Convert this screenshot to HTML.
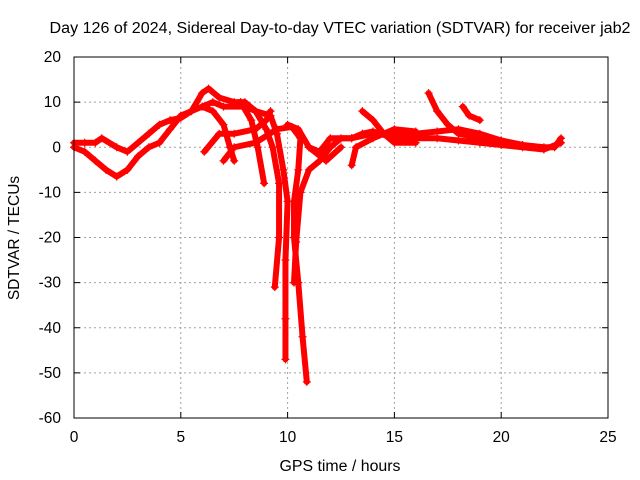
<!DOCTYPE html>
<html><head><meta charset="utf-8"><style>
html,body{margin:0;padding:0;background:#fff}
svg{display:block;font-family:"Liberation Sans",sans-serif}
</style></head><body>
<svg id="chart" width="640" height="480">
<text x="340" y="33" font-size="15.5" text-anchor="middle" textLength="581" lengthAdjust="spacingAndGlyphs">Day 126 of 2024, Sidereal Day-to-day VTEC variation (SDTVAR) for receiver jab2</text>
<text x="340" y="471" font-size="15.5" text-anchor="middle" textLength="121" lengthAdjust="spacingAndGlyphs">GPS time / hours</text>
<text transform="translate(19,238) rotate(-90)" font-size="15.5" text-anchor="middle">SDTVAR / TECUs</text>
<g id="grid"></g><g id="axes"></g><g id="series"></g>
<rect x="74" y="57" width="534" height="361" fill="none" stroke="#000" stroke-width="1"/>
</svg>
<script>
const xTicks=[0,5,10,15,20,25];
const yTicks=[20,10,0,-10,-20,-30,-40,-50,-60];
const track1=[[0,0],[0.5,-1],[1,-3],[1.5,-5],[2,-6.5],[2.5,-5],[3,-2],[3.5,0],[4,1],[4.5,4],[5,7],[5.5,8],[6,9],[6.5,8],[7,5],[7.3,0],[7.5,-3]];
const track2=[[0,1],[0.5,1],[1,1],[1.3,2],[2,0],[2.5,-1],[3,1],[3.5,3],[4,5],[4.5,6],[5,6.5],[5.5,8],[6,12],[6.3,13],[6.8,11],[7.5,10],[8,10],[8.5,8],[9,4],[9.3,0],[9.6,-8],[9.6,-20],[9.4,-31]];
const track3=[[6,9],[6.5,10],[7,9],[8,9],[8.5,8],[9.2,7],[9.5,3],[9.8,-5],[10,-12],[9.9,-25],[9.9,-38],[9.9,-47]];
const track4=[[7,-3],[7.5,0],[8.5,1],[9.5,4],[10.2,4.5],[10.6,2],[10.5,-5],[10.3,-12],[10.3,-20],[10.5,-30],[10.7,-42],[10.9,-52]];
const track5=[[10.3,-30],[10.4,-21],[10.6,-10],[11,-5],[11.5,-3],[12,0],[12.5,2],[13,2],[14,3],[15,3],[16,3],[17,3.5],[18,4],[19,3],[20,1.5],[21,0.5],[22,0],[22.5,0],[22.8,2]];
const track6=[[6.1,-1],[6.8,3],[7.5,3],[8.5,4],[9,6],[9.2,8]];
const track7=[[7.8,10],[8.3,6],[8.6,0],[8.9,-8]];
const track8=[[11,0],[11.5,-1],[12,2],[13,2],[13.5,3],[14,3.5],[15,2],[16,2],[17,2],[18,1.5],[19,1],[20,0.5],[21,0],[22,-0.5],[22.8,1]];
const track9=[[13.5,8],[14,6],[14.5,3],[15,1],[16,1]];
const track10=[[13,-4],[13.2,0],[14,2],[15,4],[16,3.5]];
const track11=[[16.6,12],[17,8],[17.5,5],[18,3],[19,2],[20,1.5],[21,0.5]];
const track12=[[18.2,9],[18.5,7],[19,6]];
const track13=[[10,5],[10.5,4],[11,0],[11.8,-3],[12.5,0]];
const tracks=[track1,track2,track3,track4,track5,track6,track7,track8,track9,track10,track11,track12,track13];
const NS='http://www.w3.org/2000/svg';
const X0=74,X1=608,Y0=418,Y1=57;
function sx(v){return X0+(v-0)/(25-0)*(X1-X0);}
function sy(v){return Y0-(v+60)/(80)*(Y0-Y1);}
const grid=document.getElementById('grid'),axes=document.getElementById('axes'),ser=document.getElementById('series');
function mk(tag,attrs,parent){const e=document.createElementNS(NS,tag);for(const k in attrs)e.setAttribute(k,attrs[k]);parent.appendChild(e);return e;}
xTicks.forEach(t=>{const x=sx(t);
 if(t>0&&t<25){const g=mk('line',{x1:x,x2:x,y1:Y1,y2:Y0,stroke:'#a0a0a0','stroke-dasharray':'2,3'},grid);
 
 }
 const tk=mk('path',{d:`M${x},${Y0}v-6M${x},${Y1}v6`,stroke:'#000'},axes);
 
 
 const l=mk('text',{x:x,y:Y0+24,'font-size':15.5,'text-anchor':'middle'},axes);l.textContent=t;
 
 
});
yTicks.forEach(t=>{const y=sy(t);
 if(t<20&&t>-60){const g=mk('line',{x1:X0,x2:X1,y1:y,y2:y,stroke:'#a0a0a0','stroke-dasharray':'2,3'},grid);
 
 }
 const tk=mk('path',{d:`M${X0},${y}h6M${X1},${y}h-6`,stroke:'#000'},axes);
 
 
 const l=mk('text',{x:X0-13,y:y+5,'font-size':15.5,'text-anchor':'end'},axes);l.textContent=t;
 
 
});
tracks.forEach((tr,i)=>{
 const p=mk('polyline',{points:tr.map(d=>sx(d[0])+','+sy(d[1])).join(' '),fill:'none',stroke:'#f00','stroke-width':6,'stroke-linejoin':'round','stroke-linecap':'round'},ser);
 
 
 tr.forEach(d=>{const m=mk('path',{d:`M${sx(d[0])-4},${sy(d[1])}h8M${sx(d[0])},${sy(d[1])-4}v8`,stroke:'#f00','stroke-width':1.2},ser);
  
  });
});
</script>
</body></html>
